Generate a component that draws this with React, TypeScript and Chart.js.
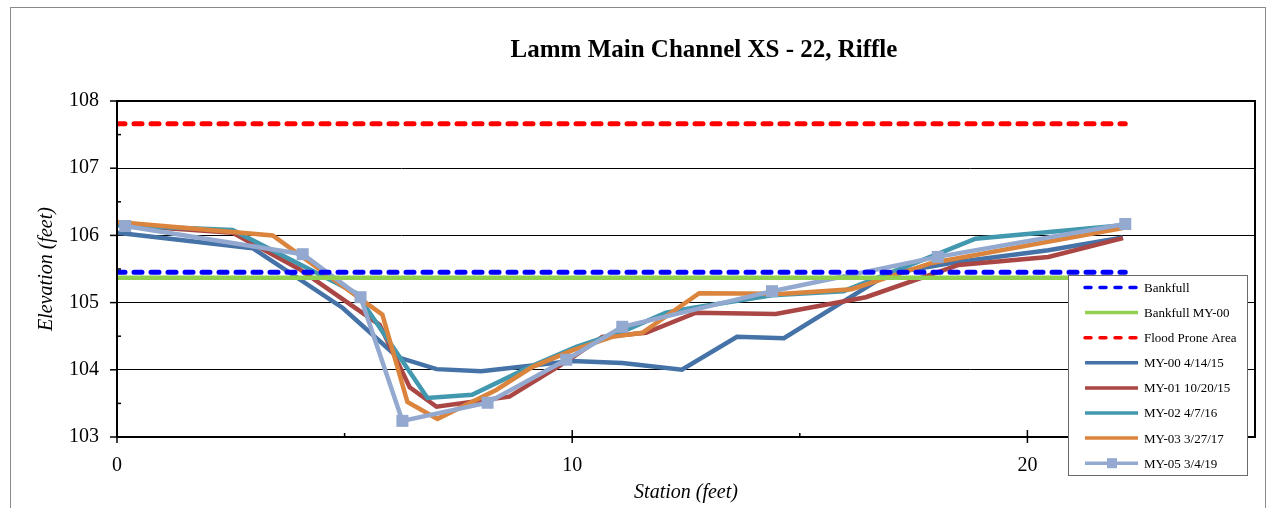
import React, { useEffect, useRef } from 'react';
import { Chart, registerables } from 'chart.js';

Chart.register(...registerables);

const chartTitle = 'Lamm Main Channel XS - 22, Riffle';
const xAxisTitle = 'Station (feet)';
const yAxisTitle = 'Elevation (feet)';

const xMin = 0;
const xMax = 25;
const yMin = 103;
const yMax = 108;
const xTickValues = [0, 10, 20];
const xMinorTickValues = [5, 15];
const yTickValues = [103, 104, 105, 106, 107, 108];
const yMinorTickValues = [103.5, 104.5, 105.5, 106.5, 107.5];

const bankfullStation = [0, 22.15];
const bankfullElev = [105.45, 105.45];
const bankfullMY00Station = [0, 22.15];
const bankfullMY00Elev = [105.37, 105.37];
const floodProneStation = [0, 22.15];
const floodProneElev = [107.66, 107.66];

const my00Station = [0, 2.98, 4.96, 6.16, 7.02, 8.0, 10.0, 11.1, 12.41, 13.62, 14.65, 16.95, 18.42, 20.46, 22.1];
const my00Elev = [106.04, 105.81, 104.92, 104.19, 104.01, 103.98, 104.13, 104.1, 104.0, 104.49, 104.47, 105.43, 105.6, 105.78, 105.97];

const my01Station = [0, 2.54, 4.0, 5.77, 6.43, 7.02, 8.62, 9.87, 10.66, 11.62, 12.72, 14.47, 16.45, 18.49, 20.46, 22.1];
const my01Elev = [106.16, 106.04, 105.5, 104.67, 103.74, 103.45, 103.6, 104.12, 104.49, 104.55, 104.85, 104.83, 105.08, 105.56, 105.68, 105.96];

const my02Station = [0, 2.54, 5.26, 6.82, 7.8, 9.06, 10.09, 11.18, 12.06, 12.63, 14.39, 15.96, 17.98, 18.86, 22.1];
const my02Elev = [106.15, 106.08, 105.14, 103.58, 103.63, 104.04, 104.34, 104.59, 104.85, 104.92, 105.11, 105.17, 105.71, 105.95, 106.15];

const my03Station = [0, 3.42, 5.83, 6.38, 7.04, 8.33, 9.12, 10.0, 10.88, 11.54, 12.79, 14.65, 16.14, 17.9, 22.1];
const my03Elev = [106.2, 106.0, 104.82, 103.52, 103.27, 103.7, 104.04, 104.29, 104.49, 104.55, 105.14, 105.13, 105.2, 105.59, 106.11];

const my05Station = [0.18, 4.08, 5.35, 6.27, 8.14, 9.87, 11.1, 14.39, 18.03, 22.15];
const my05Elev = [106.14, 105.72, 105.08, 103.24, 103.51, 104.15, 104.64, 105.17, 105.68, 106.17];

const FONT = '"Liberation Serif", "Times New Roman", Times, serif';

function toPoints(xs: number[], ys: number[]) {
  return xs.map((x, i) => ({ x, y: ys[i] }));
}

const overlayPlugin = {
  id: 'overlay',
  afterDraw(chart: any) {
    const { ctx, chartArea: a, scales } = chart;
    const xs = scales.x;
    const ys = scales.y;
    ctx.save();
    // outer chart border
    ctx.strokeStyle = '#8a8a8a';
    ctx.lineWidth = 1;
    ctx.strokeRect(10.5, 7.5, 1255, 530);
    // title
    ctx.fillStyle = '#000';
    ctx.font = `bold 25px ${FONT}`;
    ctx.textAlign = 'center';
    ctx.textBaseline = 'middle';
    ctx.fillText(chartTitle, 704, 51);
    // plot frame
    ctx.strokeStyle = '#000';
    ctx.lineWidth = 2;
    ctx.strokeRect(a.left, a.top, a.right - a.left, a.bottom - a.top);
    // ticks
    ctx.lineWidth = 1.5;
    const seg = (x1: number, y1: number, x2: number, y2: number) => {
      ctx.beginPath();
      ctx.moveTo(x1, y1);
      ctx.lineTo(x2, y2);
      ctx.stroke();
    };
    yTickValues.forEach((v) => {
      const p = ys.getPixelForValue(v);
      seg(a.left - 7, p, a.left, p);
    });
    yMinorTickValues.forEach((v) => {
      const p = ys.getPixelForValue(v);
      seg(a.left, p, a.left + 4, p);
    });
    xTickValues.forEach((v) => {
      const p = xs.getPixelForValue(v);
      seg(p, a.bottom - 7, p, a.bottom + 6);
    });
    xMinorTickValues.forEach((v) => {
      const p = xs.getPixelForValue(v);
      seg(p, a.bottom - 4, p, a.bottom);
    });
    // legend
    const lx = 1068, ly = 275, lw = 179, lh = 200;
    ctx.fillStyle = '#fff';
    ctx.fillRect(lx, ly, lw, lh);
    ctx.strokeStyle = '#6a6a6a';
    ctx.lineWidth = 1;
    ctx.strokeRect(lx + 0.5, ly + 0.5, lw, lh);
    ctx.font = `13px ${FONT}`;
    ctx.textAlign = 'left';
    ctx.textBaseline = 'middle';
    chart.data.datasets.forEach((ds: any, i: number) => {
      const cy = ly + 12.5 + i * 25.1;
      ctx.save();
      ctx.strokeStyle = ds.borderColor;
      ctx.lineWidth = 3.5;
      const dashed = ds.borderDash && ds.borderDash.length;
      ctx.lineCap = dashed ? 'round' : 'butt';
      ctx.setLineDash(dashed ? [6, 9] : []);
      seg(lx + 17, cy, lx + 70, cy);
      ctx.setLineDash([]);
      if (ds.pointRadius && ds.pointRadius > 0) {
        ctx.fillStyle = ds.backgroundColor;
        ctx.fillRect(lx + 39, cy - 5, 10, 10);
      }
      ctx.restore();
      ctx.fillStyle = '#000';
      ctx.fillText(ds.label, lx + 76, cy + 1);
    });
    ctx.restore();
  },
};

export default function App() {
  const canvasRef = useRef<HTMLCanvasElement | null>(null);

  useEffect(() => {
    const canvas = canvasRef.current;
    if (!canvas) return;
    const base = { showLine: true, borderWidth: 4.5, pointRadius: 0, pointHoverRadius: 0, fill: false, tension: 0 };
    const chart = new Chart(canvas, {
      type: 'scatter',
      data: {
        datasets: [
          { ...base, label: 'Bankfull', data: toPoints(bankfullStation, bankfullElev), borderColor: '#0000FF', backgroundColor: '#0000FF', borderWidth: 5, borderDash: [8, 9], borderCapStyle: 'round', order: 0 },
          { ...base, label: 'Bankfull MY-00', data: toPoints(bankfullMY00Station, bankfullMY00Elev), borderColor: '#92D050', backgroundColor: '#92D050', order: 0 },
          { ...base, label: 'Flood Prone Area', data: toPoints(floodProneStation, floodProneElev), borderColor: '#FF0000', backgroundColor: '#FF0000', borderWidth: 5, borderDash: [8, 9], borderCapStyle: 'round', order: 0 },
          { ...base, label: 'MY-00 4/14/15', data: toPoints(my00Station, my00Elev), borderColor: '#4572A7', backgroundColor: '#4572A7', order: 6 },
          { ...base, label: 'MY-01 10/20/15', data: toPoints(my01Station, my01Elev), borderColor: '#AA4643', backgroundColor: '#AA4643', order: 5 },
          { ...base, label: 'MY-02 4/7/16', data: toPoints(my02Station, my02Elev), borderColor: '#4198AF', backgroundColor: '#4198AF', order: 4 },
          { ...base, label: 'MY-03 3/27/17', data: toPoints(my03Station, my03Elev), borderColor: '#DB843D', backgroundColor: '#DB843D', order: 3 },
          { ...base, label: 'MY-05 3/4/19', data: toPoints(my05Station, my05Elev), borderColor: '#93A9CF', backgroundColor: '#93A9CF', pointRadius: 8.5, pointStyle: 'rect', pointBorderWidth: 0, order: 1 },
        ] as any,
      },
      options: {
        responsive: false,
        animation: false,
        devicePixelRatio: 1,
        layout: { padding: { top: 101, right: 15, left: 0, bottom: 0 } },
        plugins: { legend: { display: false }, title: { display: false }, tooltip: { enabled: false } },
        scales: {
          x: {
            type: 'linear',
            min: xMin,
            max: xMax,
            afterFit: (s: any) => { s.height = 71; },
            afterBuildTicks: (s: any) => { s.ticks = xTickValues.map((v) => ({ value: v })); },
            grid: { display: false, drawTicks: false },
            border: { display: false },
            ticks: { color: '#000', font: { family: FONT, size: 20 }, padding: 17, maxRotation: 0, autoSkip: false },
            title: { display: true, text: xAxisTitle, color: '#000', font: { family: FONT, size: 20, style: 'italic' }, padding: { top: 0, bottom: 3 } },
          },
          y: {
            type: 'linear',
            min: yMin,
            max: yMax,
            afterFit: (s: any) => { s.width = 117; },
            afterBuildTicks: (s: any) => { s.ticks = yTickValues.map((v) => ({ value: v })); },
            grid: { color: '#000', lineWidth: 1, drawTicks: false },
            border: { display: false },
            ticks: { color: '#000', font: { family: FONT, size: 20 }, padding: 18 },
            title: { display: true, text: yAxisTitle, color: '#000', font: { family: FONT, size: 20, style: 'italic' }, padding: { top: 35, bottom: 0 } },
          },
        },
      } as any,
      plugins: [overlayPlugin],
    });
    return () => chart.destroy();
  }, []);

  return (
    <div style={{ position: 'absolute', left: 0, top: 0, width: 1270, height: 508, background: '#fff' }}>
      <canvas ref={canvasRef} width={1270} height={508} style={{ display: 'block', width: 1270, height: 508 }} />
    </div>
  );
}
